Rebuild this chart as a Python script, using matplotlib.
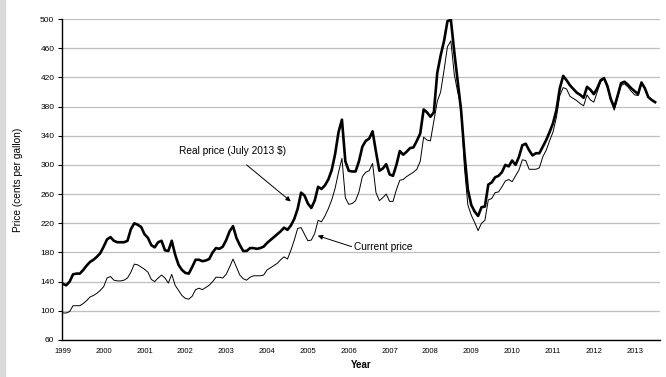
import numpy as np
import matplotlib
matplotlib.use("Agg")
import matplotlib.pyplot as plt
from matplotlib.patches import Rectangle

plt.rcParams['font.family'] = ['Liberation Sans', 'DejaVu Sans']

# monthly gasoline prices, Jan 1999 - Jul 2013 (cents per gallon)
real_price = [
    137, 135, 140, 150, 151, 151, 156, 162, 167, 170, 174, 179,   # 1999
    188, 198, 201, 196, 194, 194, 194, 196, 212, 220, 218, 215,   # 2000
    205, 200, 190, 187, 194, 196, 183, 182, 196, 177, 163, 156,   # 2001
    152, 151, 160, 170, 170, 168, 169, 171, 180, 186, 185, 188,   # 2002
    197, 209, 216, 200, 190, 182, 182, 186, 186, 185, 186, 188,   # 2003
    193, 197, 201, 205, 209, 214, 211, 217, 226, 240, 262, 258,   # 2004
    247, 241, 251, 270, 267, 272, 280, 293, 315, 345, 362, 305,   # 2005
    292, 291, 291, 305, 325, 333, 336, 346, 318, 292, 295, 301,   # 2006
    287, 285, 300, 319, 314, 318, 323, 324, 333, 343, 376, 372,   # 2007
    366, 372, 426, 450, 470, 497, 499, 455, 415, 375, 315, 266,   # 2008
    245, 236, 230, 242, 243, 273, 276, 283, 285, 290, 300, 298,   # 2009
    306, 300, 311, 327, 329, 320, 313, 316, 316, 325, 334, 345,   # 2010
    357, 375, 405, 422, 416, 409, 404, 399, 396, 392, 407, 403,   # 2011
    397, 405, 416, 419, 408, 390, 379, 395, 412, 414, 410, 405,   # 2012
    401, 397, 413, 405, 393, 389, 386,                            # 2013
]
current_price = [
    97, 97, 99, 107, 107, 107, 110, 114, 119, 121, 124, 128,      # 1999
    133, 145, 147, 142, 141, 141, 142, 145, 153, 164, 163, 160,   # 2000
    157, 153, 143, 140, 145, 149, 145, 138, 150, 135, 128, 121,   # 2001
    117, 116, 120, 129, 131, 129, 132, 135, 140, 146, 146, 145,   # 2002
    150, 160, 171, 160, 149, 144, 142, 146, 148, 148, 148, 149,   # 2003
    156, 159, 162, 165, 170, 174, 171, 183, 197, 213, 214, 205,   # 2004
    196, 197, 206, 224, 222, 230, 240, 252, 268, 290, 309, 255,   # 2005
    246, 247, 251, 263, 284, 290, 292, 302, 262, 251, 255, 260,   # 2006
    250, 250, 266, 279, 280, 284, 287, 290, 294, 305, 338, 334,   # 2007
    333, 360, 387, 400, 430, 462, 470, 424, 400, 380, 295, 245,   # 2008
    231, 221, 210, 220, 224, 252, 254, 262, 263, 270, 278, 280,   # 2009
    277, 285, 293, 307, 306, 294, 294, 294, 296, 311, 320, 333,   # 2010
    345, 365, 395, 406, 404, 394, 391, 388, 384, 381, 396, 389,   # 2011
    386, 400, 414, 418, 406, 388, 375, 392, 409, 411, 407, 401,   # 2012
    396, 395, 412, 405, 393, 389, 386,                            # 2013
]
year_ticks = list(range(1999, 2014))
price_ticks = list(range(60, 501, 40))

t = 1999 + np.arange(len(real_price)) / 12.0

fig = plt.figure(figsize=(6.66, 3.77), dpi=100)
fig.patches.append(Rectangle((0, 0), 5 / 666, 1, transform=fig.transFigure,
                             color='#d9d9d9', zorder=0))
ax = fig.add_axes([62 / 666, 1 - 340 / 377, (660 - 62) / 666, (340 - 19) / 377])

ax.plot(t, current_price, color='black', lw=0.7, zorder=3)
ax.plot(t, real_price, color='black', lw=1.9, zorder=4)

ax.set_xlim(1998.98, 2013.62)
ax.set_ylim(60, 500)
ax.set_yticks(price_ticks)
ax.set_xticks(year_ticks)
ax.set_xticklabels([str(y) for y in year_ticks], fontsize=5.5)
ax.tick_params(axis='y', labelsize=6.0, length=3, width=0.8, pad=2.5)
ax.tick_params(axis='x', length=0, pad=6)
ax.grid(axis='y', color='#bfbfbf', lw=0.9)
ax.set_axisbelow(True)
for s in ['top', 'right']:
    ax.spines[s].set_visible(False)
for s in ['left', 'bottom']:
    ax.spines[s].set_linewidth(1.0)
    ax.spines[s].set_zorder(5)

ax.set_ylabel('Price (cents per gallon)', fontsize=7.3, labelpad=12)
ax.set_xlabel('Year', fontsize=7, fontweight='bold', labelpad=3)

arrow = dict(arrowstyle='-|>', color='black', lw=0.7, mutation_scale=7,
             shrinkA=0, shrinkB=0)
ax.annotate('', xy=(2004.58, 250), xytext=(2003.50, 300), arrowprops=arrow)
ax.text(2001.84, 319, 'Real price (July 2013 $)', fontsize=7.3, va='center', ha='left')
ax.annotate('', xy=(2005.24, 203), xytext=(2006.07, 188), arrowprops=arrow)
ax.text(2006.14, 188, 'Current price', fontsize=7.3, va='center', ha='left')

fig.savefig('out.png', dpi=100)
